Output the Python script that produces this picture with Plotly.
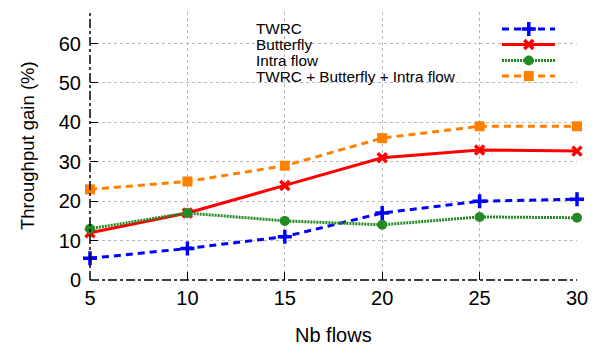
import plotly.graph_objects as go

# data
nb_flows = [5, 10, 15, 20, 25, 30]
twrc = [5.5, 8, 11, 17, 20, 20.5]
butterfly = [12, 17, 24, 31, 33, 32.7]
intra_flow = [13, 17, 15, 14, 16, 15.8]
combined = [23, 25, 29, 36, 39, 39]

series_names = ["TWRC", "Butterfly", "Intra flow", "TWRC + Butterfly + Intra flow"]
series_values = [twrc, butterfly, intra_flow, combined]
x_ticks = [5, 10, 15, 20, 25, 30]
y_ticks = [0, 10, 20, 30, 40, 50, 60]

styles = [
    dict(color="#0000ff", dash="7px,5px", symbol="cross-thin", msize=10, mline=3.5),
    dict(color="#ff0000", dash="solid", symbol="x-thin", msize=9, mline=3.5),
    dict(color="#228b22", dash="2px,1px", symbol="circle", msize=10, mline=0),
    dict(color="#ff8000", dash="7px,5px", symbol="square", msize=10, mline=0),
]

FONT = "Liberation Sans, Arial, sans-serif"

fig = go.Figure()

for name, vals, st in zip(series_names, series_values, styles):
    fig.add_trace(go.Scatter(
        x=nb_flows, y=vals, mode="lines+markers", name=name,
        line=dict(color=st["color"], width=3, dash=st["dash"]),
        marker=dict(symbol=st["symbol"], size=st["msize"], color=st["color"],
                    line=dict(color=st["color"], width=st["mline"])),
        cliponaxis=False, showlegend=False,
    ))

# custom key: text on the left, sample on the right (gnuplot style)
key_y = [0.937, 0.879, 0.819, 0.761]
for name, st, ky in zip(series_names, styles, key_y):
    fig.add_trace(go.Scatter(
        x=[0.846, 0.955], y=[ky, ky], xaxis="x2", yaxis="y2",
        mode="lines", line=dict(color=st["color"], width=3, dash=st["dash"]),
        showlegend=False, hoverinfo="skip",
    ))
    fig.add_trace(go.Scatter(
        x=[0.901], y=[ky], xaxis="x2", yaxis="y2", mode="markers",
        marker=dict(symbol=st["symbol"], size=st["msize"], color=st["color"],
                    line=dict(color=st["color"], width=st["mline"])),
        showlegend=False, hoverinfo="skip",
    ))
    fig.add_annotation(
        x=0.339, y=ky, xref="x2", yref="y2", text=name, showarrow=False,
        xanchor="left", yanchor="middle", xshift=-1,
        font=dict(size=15.3, color="#000000", family=FONT),
    )

# axis titles
fig.add_annotation(x=0.5, y=0, xref="paper", yref="paper", yshift=-55, text="Nb flows",
                   showarrow=False, xanchor="center", yanchor="middle",
                   font=dict(size=20, family=FONT))
fig.add_annotation(x=0, y=0.5, xref="paper", yref="paper", xshift=-63,
                   text="Throughput gain (%)", textangle=-90, showarrow=False,
                   xanchor="center", yanchor="middle", font=dict(size=18.5, family=FONT))

fig.add_shape(type="rect", xref="paper", yref="paper", x0=0.33, x1=0.977, y0=0.71, y1=0.99,
              fillcolor="white", line=dict(width=0), layer="between")

# dash-dot axis borders
fig.add_shape(type="line", xref="paper", yref="paper", x0=0, x1=0, y0=0, y1=1,
              line=dict(color="black", width=1.5, dash="dashdot"))
fig.add_shape(type="line", xref="paper", yref="paper", x0=0, x1=1, y0=0, y1=0,
              line=dict(color="black", width=1.5, dash="dashdot"))

fig.update_layout(
    width=592, height=347,
    margin=dict(l=90, r=15, t=12, b=67),
    paper_bgcolor="white", plot_bgcolor="white",
    font=dict(family=FONT, size=20, color="#000000"),
    xaxis=dict(
        range=[5, 30], tickvals=x_ticks, ticks="inside", ticklen=8, tickcolor="black",
        showgrid=True, gridcolor="#b8b8b8", griddash="dot", gridwidth=1,
        zeroline=False, showline=False, ticklabelstandoff=4, automargin=False,
        tickfont=dict(size=20),
    ),
    yaxis=dict(
        range=[0, 68], tickvals=y_ticks, ticks="inside", ticklen=8, tickcolor="black",
        showgrid=True, gridcolor="#b8b8b8", griddash="dot", gridwidth=1,
        zeroline=False, showline=False, ticklabelstandoff=8, automargin=False,
        tickfont=dict(size=20),
    ),
    xaxis2=dict(overlaying="x", range=[0, 1], visible=False, fixedrange=True),
    yaxis2=dict(overlaying="y", range=[0, 1], visible=False, fixedrange=True),
)

fig.write_html("out.html", config={"displayModeBar": False, "responsive": False},
               post_script="document.body.style.margin='0';")
